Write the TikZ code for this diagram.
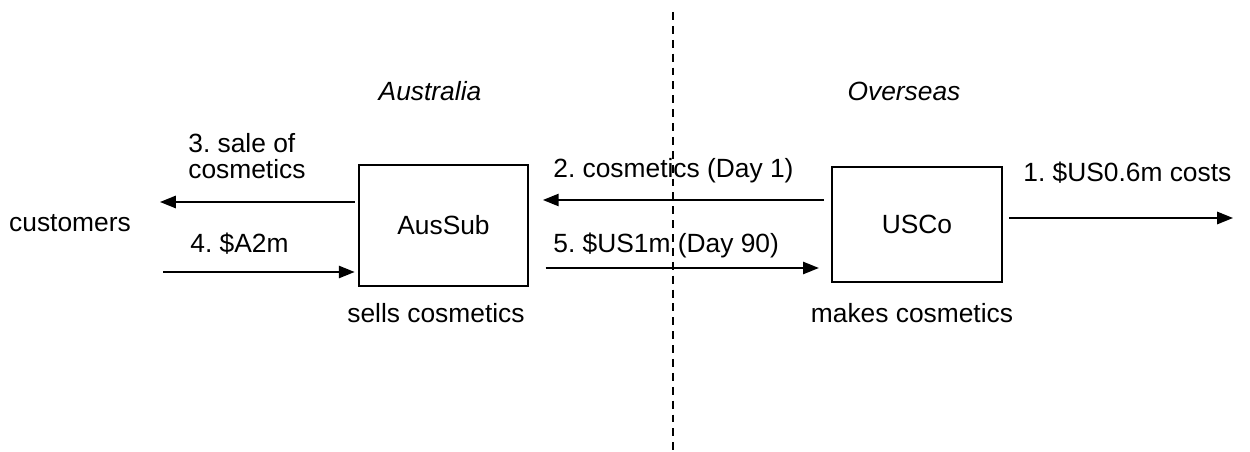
\documentclass[tikz,border=0pt]{standalone}
\usepackage{fontspec}
\setmainfont{Liberation Sans}
\usetikzlibrary{arrows.meta}
\frenchspacing
\begin{document}
\begin{tikzpicture}[x=0.02cm, y=-0.02cm,
    font=\fontsize{15}{15}\selectfont,
    caja/.style={draw, line width=1pt, inner sep=0pt},
    flujo/.style={line width=1pt, -{Triangle[length=9pt,width=7pt]}},
    etiq/.style={inner sep=0pt},
    region/.style={inner sep=0pt, font=\fontsize{15}{15}\selectfont\itshape}]
  \useasboundingbox (0,0) rectangle (1250,452);

  % Frontera
  \coordinate (arriba) at (673,12);
  \coordinate (abajo) at (673,452);
  \draw[line width=0.75pt, dash pattern=on 4.5pt off 3.4pt] (arriba) -- (abajo);

  % Regiones
  \node[region, anchor=base] (australia) at (430,101) {Australia};
  \node[region, anchor=base] (overseas) at (904,101) {Overseas};

  % Entidades
  \node[caja, minimum width=3.38cm, minimum height=2.42cm] (aus) at (443.5,225.5) {AusSub};
  \node[caja, minimum width=3.4cm, minimum height=2.3cm] (usco) at (917,224.5) {USCo};
  \node[etiq, anchor=base] (clientes) at (70,232) {customers};
  \node[etiq, anchor=base] (vende) at (436,322) {sells cosmetics};
  \node[etiq, anchor=base] (fabrica) at (912,322) {makes cosmetics};

  % Extremos libres
  \coordinate (c3) at (160,202);
  \coordinate (c4) at (163,272);
  \coordinate (c1) at (1233,218);

  % Flujos
  \draw[flujo, shorten <=2pt] (aus.west |- c3) -- (c3);
  \draw[flujo, shorten >=2pt] (c4) -- (aus.west |- c4);
  \draw[flujo, shorten <=4pt, shorten >=8pt] (usco.west |- 0,200) -- (aus.east |- 0,200);
  \draw[flujo, shorten <=9.5pt, shorten >=7pt] (aus.east |- 0,268) -- (usco.west |- 0,268);
  \draw[flujo, shorten <=3.5pt] (usco.east |- c1) -- (c1);

  % Etiquetas de los flujos
  \node[etiq, anchor=north west, align=left] (lbl3) at (188,133) {3. sale of\\cosmetics};
  \node[etiq, anchor=base west] (lbl4) at (190,253) {4. \$A2m};
  \node[etiq, anchor=base west] (lbl2) at (553,178) {2. cosmetics (Day 1)};
  \node[etiq, anchor=base west] (lbl5) at (553,253) {5. \$US1m (Day 90)};
  \node[etiq, anchor=base west] (lbl1) at (1023,182) {1. \$US0.6m costs};
\end{tikzpicture}
\end{document}
